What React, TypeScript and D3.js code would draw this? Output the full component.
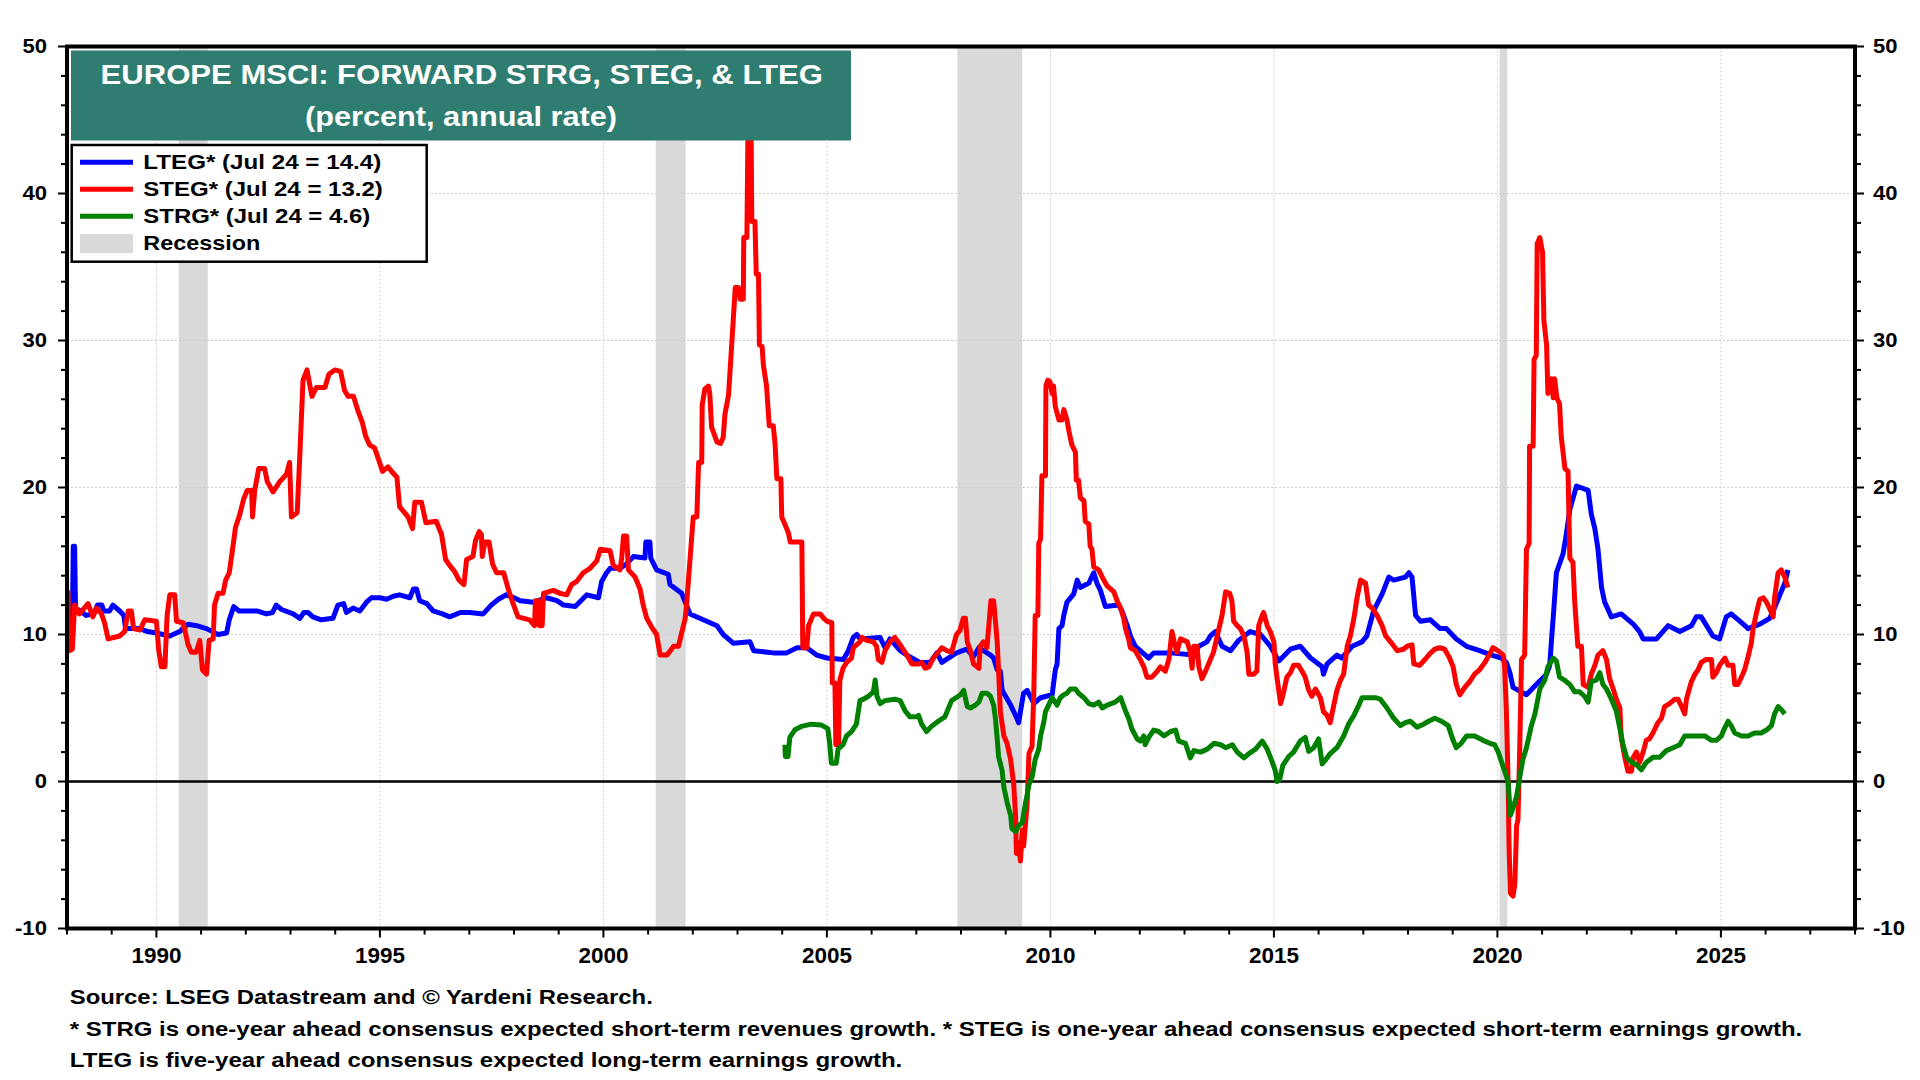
import React from 'react';
import * as d3 from 'd3';

// ---------- DATA ----------
const YEAR_TICKS = [1990, 1995, 2000, 2005, 2010, 2015, 2020, 2025];
const Y_TICKS = [-10, 0, 10, 20, 30, 40, 50];
const GRID_Y = [10, 20, 30, 40];

const RECESSIONS: [number, number][] = [
  [1990.5, 1991.15],
  [2001.17, 2001.84],
  [2007.92, 2009.37],
  [2020.05, 2020.22],
];

const LTEG: [number, number][] = [
  [1988.02, 10.5], [1988.12, 10.6], [1988.14, 16.0], [1988.17, 16.0], [1988.19, 11.8], [1988.3, 11.6],
  [1988.43, 11.3], [1988.6, 11.4], [1988.68, 12.0], [1988.78, 12.0], [1988.82, 11.6], [1988.95, 11.6],
  [1989.03, 12.0], [1989.1, 11.8], [1989.18, 11.6], [1989.27, 11.3], [1989.31, 10.4], [1989.63, 10.4],
  [1989.8, 10.2], [1990.0, 10.1], [1990.3, 9.9], [1990.52, 10.2], [1990.71, 10.7], [1990.9, 10.6],
  [1991.12, 10.4], [1991.38, 10.0], [1991.57, 10.1], [1991.63, 11.0], [1991.73, 11.9], [1991.85, 11.6],
  [1992.01, 11.6], [1992.25, 11.6], [1992.46, 11.4], [1992.6, 11.5], [1992.68, 12.0], [1992.8, 11.7],
  [1993.06, 11.4], [1993.21, 11.1], [1993.3, 11.5], [1993.39, 11.5], [1993.5, 11.2], [1993.69, 11.0],
  [1993.95, 11.1], [1994.06, 12.0], [1994.19, 12.1], [1994.25, 11.5], [1994.4, 11.8], [1994.55, 11.6],
  [1994.7, 12.2], [1994.81, 12.5], [1995.0, 12.5], [1995.15, 12.4], [1995.3, 12.6], [1995.44, 12.7],
  [1995.67, 12.5], [1995.75, 13.1], [1995.82, 13.1], [1995.89, 12.3], [1996.05, 12.1], [1996.19, 11.6],
  [1996.4, 11.4], [1996.56, 11.2], [1996.8, 11.5], [1997.01, 11.5], [1997.31, 11.4], [1997.49, 12.0],
  [1997.65, 12.4], [1997.83, 12.7], [1998.0, 12.5], [1998.14, 12.3], [1998.43, 12.2], [1998.73, 12.5],
  [1998.96, 12.3], [1999.11, 12.0], [1999.37, 11.9], [1999.63, 12.7], [1999.89, 12.5], [1999.96, 13.6],
  [2000.07, 14.2], [2000.15, 14.5], [2000.37, 14.5], [2000.52, 14.8], [2000.67, 15.3], [2000.93, 15.2],
  [2000.95, 16.3], [2001.04, 16.3], [2001.06, 15.2], [2001.19, 14.4], [2001.45, 14.1], [2001.49, 13.4],
  [2001.75, 12.8], [2001.83, 12.2], [2001.94, 11.4], [2002.31, 10.9], [2002.54, 10.6], [2002.68, 10.0],
  [2002.91, 9.4], [2003.28, 9.5], [2003.36, 8.9], [2003.8, 8.75], [2004.1, 8.75], [2004.33, 9.1],
  [2004.55, 9.1], [2004.77, 8.6], [2005.0, 8.4], [2005.37, 8.3], [2005.48, 8.9], [2005.59, 9.8],
  [2005.67, 10.0], [2005.74, 9.7], [2006.19, 9.8], [2006.3, 9.1], [2006.41, 9.7], [2006.64, 8.9],
  [2006.79, 8.6], [2007.08, 8.1], [2007.31, 8.1], [2007.46, 8.75], [2007.57, 8.1], [2007.9, 8.75],
  [2008.13, 9.0], [2008.28, 8.5], [2008.4, 9.1], [2008.66, 8.6], [2008.73, 8.4], [2008.81, 7.6],
  [2008.88, 7.5], [2008.92, 6.2], [2009.11, 5.2], [2009.25, 4.3], [2009.29, 4.0], [2009.33, 4.75],
  [2009.4, 6.0], [2009.48, 6.2], [2009.63, 5.3], [2009.78, 5.7], [2010.04, 5.9], [2010.11, 7.6],
  [2010.15, 8.0], [2010.19, 10.4], [2010.26, 10.6], [2010.3, 11.3], [2010.37, 12.2], [2010.52, 12.75],
  [2010.6, 13.7], [2010.67, 13.2], [2010.86, 13.5], [2010.97, 14.2], [2011.04, 13.5], [2011.12, 13.0],
  [2011.23, 11.9], [2011.53, 12.0], [2011.6, 11.6], [2011.72, 10.6], [2011.79, 9.9], [2011.9, 9.2],
  [2012.2, 8.4], [2012.31, 8.75], [2012.68, 8.75], [2013.21, 8.6], [2013.32, 9.2], [2013.5, 9.5],
  [2013.58, 9.9], [2013.69, 10.2], [2013.84, 9.2], [2014.03, 8.9], [2014.21, 9.6], [2014.47, 10.2],
  [2014.7, 10.0], [2014.92, 9.2], [2015.11, 8.2], [2015.37, 9.0], [2015.59, 9.2], [2015.82, 8.4],
  [2016.08, 7.8], [2016.11, 7.3], [2016.19, 8.0], [2016.41, 8.6], [2016.52, 8.4], [2016.75, 9.2],
  [2016.97, 9.5], [2017.08, 9.9], [2017.23, 11.6], [2017.42, 12.75], [2017.57, 13.9], [2017.68, 13.7],
  [2017.94, 13.9], [2018.02, 14.2], [2018.09, 13.9], [2018.17, 11.3], [2018.28, 10.9], [2018.5, 11.0],
  [2018.72, 10.4], [2018.86, 10.4], [2019.08, 9.7], [2019.31, 9.2], [2019.6, 8.9], [2019.87, 8.6],
  [2020.09, 8.4], [2020.2, 8.1], [2020.28, 7.4], [2020.35, 6.4], [2020.65, 5.9], [2020.87, 6.6],
  [2021.1, 7.3], [2021.17, 7.9], [2021.21, 9.6], [2021.25, 11.2], [2021.32, 14.2], [2021.47, 15.5],
  [2021.54, 16.8], [2021.62, 18.5], [2021.77, 20.1], [2022.03, 19.8], [2022.1, 18.2], [2022.18, 17.2],
  [2022.25, 15.8], [2022.33, 13.2], [2022.4, 12.2], [2022.55, 11.2], [2022.77, 11.4], [2023.04, 10.7],
  [2023.18, 10.2], [2023.26, 9.7], [2023.56, 9.7], [2023.82, 10.6], [2024.08, 10.2], [2024.34, 10.6],
  [2024.45, 11.2], [2024.56, 11.2], [2024.82, 9.9], [2024.97, 9.7], [2025.12, 11.2], [2025.23, 11.4],
  [2025.5, 10.7], [2025.61, 10.4], [2025.87, 10.7], [2026.09, 11.1], [2026.17, 11.6], [2026.32, 12.7],
  [2026.43, 13.5], [2026.5, 14.4],
];

const STEG: [number, number][] = [
  [1988.02, 13.0], [1988.05, 8.9], [1988.12, 9.0], [1988.17, 12.0], [1988.28, 11.4], [1988.47, 12.1],
  [1988.58, 11.2], [1988.66, 11.8], [1988.77, 11.4], [1988.84, 10.8], [1988.92, 9.7], [1989.18, 9.9],
  [1989.29, 10.2], [1989.37, 11.6], [1989.44, 11.6], [1989.49, 10.4], [1989.63, 10.3], [1989.74, 11.0],
  [1990.0, 10.9], [1990.05, 9.0], [1990.11, 7.8], [1990.19, 7.8], [1990.24, 11.3], [1990.3, 12.7],
  [1990.41, 12.7], [1990.45, 10.9], [1990.6, 10.8], [1990.71, 9.3], [1990.78, 8.8], [1990.89, 8.8],
  [1990.97, 9.6], [1991.03, 7.6], [1991.12, 7.3], [1991.18, 9.6], [1991.27, 9.7], [1991.3, 12.0],
  [1991.38, 12.8], [1991.49, 12.8], [1991.55, 13.7], [1991.63, 14.2], [1991.7, 15.7], [1991.77, 17.3],
  [1991.86, 18.1], [1991.95, 19.2], [1992.03, 19.8], [1992.13, 19.8], [1992.15, 18.0], [1992.2, 19.8],
  [1992.29, 21.3], [1992.42, 21.3], [1992.48, 20.4], [1992.61, 19.7], [1992.76, 20.4], [1992.91, 20.9],
  [1992.98, 21.7], [1993.02, 18.0], [1993.15, 18.3], [1993.21, 22.3], [1993.28, 27.3], [1993.37, 28.0],
  [1993.43, 27.0], [1993.48, 26.2], [1993.58, 26.8], [1993.77, 26.8], [1993.86, 27.7], [1993.99, 28.0],
  [1994.12, 27.9], [1994.21, 26.6], [1994.29, 26.2], [1994.41, 26.2], [1994.5, 25.3], [1994.61, 24.4],
  [1994.68, 23.5], [1994.77, 22.9], [1994.88, 22.7], [1994.96, 22.0], [1995.06, 21.1], [1995.18, 21.4],
  [1995.29, 21.0], [1995.38, 20.7], [1995.44, 18.7], [1995.63, 18.0], [1995.73, 17.2], [1995.78, 19.0],
  [1995.93, 19.0], [1996.03, 17.6], [1996.26, 17.7], [1996.38, 16.8], [1996.47, 15.1], [1996.56, 14.7],
  [1996.67, 14.3], [1996.77, 13.7], [1996.88, 13.4], [1996.94, 15.1], [1997.08, 15.3], [1997.14, 16.4],
  [1997.22, 17.0], [1997.27, 16.8], [1997.29, 15.3], [1997.35, 16.3], [1997.44, 16.3], [1997.52, 14.8],
  [1997.61, 14.2], [1997.77, 14.2], [1997.87, 13.1], [1997.98, 12.1], [1998.09, 11.2], [1998.35, 11.0],
  [1998.46, 10.6], [1998.48, 12.3], [1998.55, 12.3], [1998.57, 10.6], [1998.63, 10.6], [1998.66, 12.8],
  [1998.88, 13.0], [1999.03, 12.8], [1999.18, 12.7], [1999.29, 13.4], [1999.4, 13.6], [1999.55, 14.2],
  [1999.7, 14.5], [1999.85, 15.0], [1999.93, 15.8], [2000.15, 15.7], [2000.22, 14.7], [2000.37, 14.4],
  [2000.41, 15.2], [2000.45, 16.7], [2000.52, 16.7], [2000.56, 14.4], [2000.71, 13.9], [2000.82, 13.1],
  [2000.89, 12.0], [2000.97, 11.1], [2001.08, 10.5], [2001.19, 10.0], [2001.27, 8.6], [2001.42, 8.6],
  [2001.5, 8.9], [2001.57, 9.2], [2001.68, 9.2], [2001.75, 10.1], [2001.83, 11.1], [2001.86, 12.0],
  [2001.94, 15.2], [2002.01, 18.0], [2002.09, 18.0], [2002.13, 21.7], [2002.2, 21.7], [2002.21, 25.6],
  [2002.27, 26.7], [2002.35, 26.9], [2002.38, 26.4], [2002.42, 24.1], [2002.54, 23.1], [2002.62, 23.0],
  [2002.68, 23.4], [2002.72, 25.0], [2002.8, 26.3], [2002.87, 29.7], [2002.95, 33.6], [2003.02, 33.6],
  [2003.06, 32.8], [2003.13, 32.8], [2003.14, 37.0], [2003.21, 37.0], [2003.24, 46.0], [2003.3, 46.0],
  [2003.32, 38.1], [2003.39, 38.1], [2003.42, 34.5], [2003.47, 34.5], [2003.49, 29.7], [2003.55, 29.6],
  [2003.58, 28.3], [2003.65, 26.9], [2003.71, 24.2], [2003.8, 24.2], [2003.84, 23.0], [2003.88, 20.6],
  [2003.97, 20.6], [2003.99, 18.0], [2004.06, 17.5], [2004.14, 16.9], [2004.18, 16.3], [2004.44, 16.3],
  [2004.46, 9.1], [2004.55, 9.1], [2004.59, 10.6], [2004.66, 11.1], [2004.7, 11.4], [2004.85, 11.4],
  [2004.93, 11.1], [2005.0, 10.9], [2005.11, 10.8], [2005.12, 6.7], [2005.18, 6.7], [2005.2, 2.5],
  [2005.26, 2.5], [2005.29, 6.9], [2005.36, 7.7], [2005.44, 8.1], [2005.55, 8.4], [2005.59, 9.1],
  [2005.74, 9.5], [2005.78, 9.8], [2005.89, 9.6], [2006.04, 9.5], [2006.11, 9.2], [2006.15, 8.3],
  [2006.23, 8.1], [2006.3, 8.9], [2006.41, 9.5], [2006.52, 9.8], [2006.64, 9.3], [2006.79, 8.6],
  [2006.9, 8.0], [2007.05, 8.0], [2007.12, 8.1], [2007.2, 7.7], [2007.28, 7.8], [2007.38, 8.4],
  [2007.57, 9.1], [2007.68, 8.9], [2007.79, 8.8], [2007.9, 10.0], [2007.98, 10.3], [2008.05, 11.1],
  [2008.1, 11.1], [2008.14, 9.5], [2008.21, 8.9], [2008.28, 8.0], [2008.4, 7.7], [2008.43, 9.2],
  [2008.5, 9.5], [2008.58, 9.1], [2008.67, 12.3], [2008.73, 12.3], [2008.77, 10.9], [2008.81, 9.5],
  [2008.84, 7.6], [2008.88, 4.75], [2008.96, 3.1], [2009.03, 2.6], [2009.11, 1.5], [2009.18, -0.2],
  [2009.22, -2.3], [2009.24, -4.9], [2009.29, -4.2], [2009.33, -5.4], [2009.37, -3.3], [2009.4, -4.4],
  [2009.44, -3.0], [2009.48, -1.5], [2009.52, 1.9], [2009.59, 2.4], [2009.63, 6.2], [2009.66, 11.3],
  [2009.72, 11.3], [2009.74, 16.2], [2009.78, 16.5], [2009.81, 20.8], [2009.89, 20.8], [2009.9, 26.9],
  [2009.94, 27.3], [2009.99, 27.2], [2010.04, 26.4], [2010.07, 26.9], [2010.11, 25.5], [2010.19, 24.6],
  [2010.26, 24.6], [2010.3, 25.3], [2010.37, 24.6], [2010.41, 23.9], [2010.48, 22.9], [2010.56, 22.4],
  [2010.58, 20.5], [2010.63, 20.5], [2010.67, 19.3], [2010.75, 19.1], [2010.78, 17.7], [2010.86, 17.5],
  [2010.89, 16.0], [2010.93, 15.8], [2010.97, 14.6], [2011.08, 14.4], [2011.16, 13.9], [2011.27, 13.3],
  [2011.42, 12.9], [2011.49, 12.3], [2011.57, 11.8], [2011.64, 11.1], [2011.68, 10.4], [2011.75, 9.7],
  [2011.79, 9.1], [2011.9, 8.9], [2012.01, 8.3], [2012.09, 7.8], [2012.16, 7.1], [2012.27, 7.1],
  [2012.39, 7.5], [2012.46, 7.8], [2012.57, 7.5], [2012.65, 8.3], [2012.72, 10.2], [2012.77, 9.5],
  [2012.83, 8.8], [2012.91, 9.7], [2013.06, 9.5], [2013.13, 8.8], [2013.17, 7.7], [2013.21, 9.2],
  [2013.28, 9.2], [2013.32, 7.8], [2013.39, 7.0], [2013.47, 7.5], [2013.58, 8.3], [2013.65, 8.8],
  [2013.77, 10.4], [2013.84, 11.3], [2013.92, 12.9], [2014.01, 12.8], [2014.06, 12.3], [2014.1, 10.9],
  [2014.18, 10.6], [2014.25, 10.4], [2014.33, 9.9], [2014.4, 8.8], [2014.44, 7.3], [2014.55, 7.3],
  [2014.62, 7.5], [2014.66, 10.6], [2014.74, 11.3], [2014.77, 11.5], [2014.85, 10.6], [2014.92, 10.2],
  [2015.0, 9.5], [2015.03, 8.0], [2015.09, 6.6], [2015.15, 5.3], [2015.22, 6.1], [2015.29, 7.1],
  [2015.37, 7.4], [2015.44, 7.9], [2015.55, 7.9], [2015.63, 7.5], [2015.7, 7.1], [2015.78, 6.2],
  [2015.85, 5.8], [2015.93, 6.3], [2016.04, 5.7], [2016.11, 4.75], [2016.19, 4.5], [2016.26, 4.0],
  [2016.34, 5.2], [2016.41, 6.2], [2016.49, 6.9], [2016.56, 7.3], [2016.64, 9.2], [2016.71, 9.9],
  [2016.79, 11.1], [2016.86, 12.5], [2016.94, 13.7], [2017.05, 13.5], [2017.12, 12.0], [2017.2, 11.8],
  [2017.31, 11.3], [2017.42, 10.6], [2017.5, 9.9], [2017.61, 9.5], [2017.76, 8.9], [2017.9, 9.0],
  [2017.98, 9.2], [2018.09, 9.3], [2018.13, 8.0], [2018.26, 7.9], [2018.38, 8.3], [2018.49, 8.7],
  [2018.6, 9.0], [2018.71, 9.1], [2018.82, 9.0], [2018.93, 8.4], [2019.01, 7.8], [2019.08, 6.6],
  [2019.16, 5.9], [2019.27, 6.4], [2019.38, 6.8], [2019.49, 7.3], [2019.6, 7.6], [2019.72, 8.1],
  [2019.83, 8.7], [2019.9, 9.1], [2020.01, 8.9], [2020.13, 8.6], [2020.16, 7.9], [2020.2, 4.9],
  [2020.24, 0.0], [2020.26, -4.3], [2020.29, -7.6], [2020.35, -7.8], [2020.39, -7.0], [2020.43, -3.0],
  [2020.46, -2.6], [2020.5, 2.3], [2020.54, 8.3], [2020.61, 8.6], [2020.65, 15.8], [2020.71, 16.2],
  [2020.72, 22.8], [2020.8, 22.8], [2020.82, 28.7], [2020.87, 29.0], [2020.89, 36.6], [2020.95, 37.0],
  [2021.01, 36.0], [2021.04, 31.4], [2021.1, 29.7], [2021.13, 26.4], [2021.21, 27.4], [2021.25, 26.1],
  [2021.28, 27.4], [2021.33, 26.1], [2021.39, 25.7], [2021.43, 23.4], [2021.51, 21.3], [2021.58, 21.1],
  [2021.62, 15.2], [2021.69, 14.9], [2021.73, 12.2], [2021.8, 9.2], [2021.88, 9.2], [2021.92, 6.6],
  [2022.03, 6.4], [2022.1, 7.3], [2022.18, 7.9], [2022.25, 8.6], [2022.36, 8.9], [2022.44, 8.3],
  [2022.51, 7.0], [2022.59, 6.3], [2022.66, 5.6], [2022.74, 5.0], [2022.77, 3.0], [2022.85, 1.65],
  [2022.92, 0.7], [2023.0, 0.7], [2023.04, 1.65], [2023.11, 2.0], [2023.18, 1.3], [2023.26, 2.0],
  [2023.33, 2.8], [2023.4, 2.9], [2023.48, 3.3], [2023.59, 4.0], [2023.67, 4.3], [2023.74, 5.1],
  [2023.85, 5.3], [2023.97, 5.6], [2024.04, 5.6], [2024.12, 5.1], [2024.19, 4.6], [2024.23, 5.6],
  [2024.34, 6.8], [2024.42, 7.3], [2024.49, 7.6], [2024.56, 8.1], [2024.67, 8.3], [2024.79, 8.3],
  [2024.82, 7.1], [2024.9, 7.4], [2024.97, 7.9], [2025.09, 8.4], [2025.16, 7.9], [2025.27, 7.9],
  [2025.31, 6.6], [2025.38, 6.6], [2025.46, 7.1], [2025.53, 7.6], [2025.6, 8.4], [2025.68, 9.4],
  [2025.72, 10.4], [2025.79, 11.4], [2025.87, 12.4], [2025.95, 12.5], [2026.02, 12.2], [2026.1, 11.7],
  [2026.17, 11.2], [2026.2, 12.5], [2026.28, 14.2], [2026.35, 14.4], [2026.43, 13.9], [2026.5, 13.2],
];

const STRG: [number, number][] = [
  [2004.06, 2.5], [2004.07, 1.7], [2004.13, 1.7], [2004.17, 3.0], [2004.28, 3.5], [2004.43, 3.75],
  [2004.65, 3.9], [2004.87, 3.85], [2005.02, 3.6], [2005.06, 2.66], [2005.1, 1.25], [2005.21, 1.25],
  [2005.25, 2.2], [2005.36, 2.5], [2005.44, 3.1], [2005.55, 3.4], [2005.66, 3.9], [2005.74, 5.5],
  [2005.82, 5.6], [2005.93, 5.8], [2006.04, 6.1], [2006.08, 6.9], [2006.12, 5.8], [2006.19, 5.3],
  [2006.3, 5.5], [2006.52, 5.6], [2006.64, 5.5], [2006.75, 4.8], [2006.86, 4.4], [2007.01, 4.4],
  [2007.05, 4.5], [2007.12, 3.9], [2007.23, 3.4], [2007.34, 3.75], [2007.49, 4.1], [2007.64, 4.4],
  [2007.79, 5.5], [2007.99, 5.9], [2008.06, 6.2], [2008.14, 5.1], [2008.21, 5.0], [2008.32, 5.2],
  [2008.4, 5.4], [2008.47, 6.0], [2008.58, 6.0], [2008.66, 5.8], [2008.73, 5.2], [2008.77, 4.3],
  [2008.81, 2.9], [2008.84, 1.7], [2008.92, 0.75], [2008.96, -0.4], [2009.03, -1.4], [2009.11, -2.3],
  [2009.14, -3.2], [2009.22, -3.4], [2009.29, -3.0], [2009.37, -2.8], [2009.44, -1.5], [2009.48, -0.9],
  [2009.52, -0.2], [2009.59, 0.3], [2009.66, 1.5], [2009.74, 2.2], [2009.78, 3.1], [2009.85, 4.0],
  [2009.89, 4.75], [2009.96, 5.2], [2010.04, 5.7], [2010.15, 5.2], [2010.22, 5.7], [2010.3, 5.9],
  [2010.37, 6.0], [2010.45, 6.3], [2010.56, 6.3], [2010.63, 6.0], [2010.75, 5.7], [2010.86, 5.3],
  [2010.97, 5.2], [2011.08, 5.4], [2011.16, 5.0], [2011.27, 5.2], [2011.45, 5.4], [2011.57, 5.7],
  [2011.68, 4.8], [2011.75, 4.3], [2011.82, 3.6], [2011.94, 2.9], [2012.01, 2.75], [2012.09, 3.1],
  [2012.12, 2.5], [2012.2, 3.0], [2012.31, 3.5], [2012.42, 3.4], [2012.54, 3.1], [2012.69, 3.4],
  [2012.8, 3.5], [2012.87, 2.75], [2013.02, 2.6], [2013.13, 1.6], [2013.21, 2.1], [2013.36, 2.0],
  [2013.51, 2.2], [2013.66, 2.6], [2013.81, 2.5], [2013.92, 2.3], [2014.07, 2.5], [2014.18, 2.0],
  [2014.33, 1.6], [2014.44, 1.9], [2014.59, 2.2], [2014.74, 2.75], [2014.85, 2.2], [2014.96, 1.35],
  [2015.03, 0.75], [2015.07, 0.0], [2015.13, 0.15], [2015.2, 1.1], [2015.33, 1.7], [2015.44, 2.0],
  [2015.59, 2.75], [2015.7, 3.0], [2015.78, 2.05], [2015.89, 2.3], [2016.0, 2.9], [2016.08, 1.2],
  [2016.15, 1.45], [2016.26, 1.9], [2016.41, 2.3], [2016.56, 3.1], [2016.67, 3.9], [2016.79, 4.5],
  [2016.9, 5.2], [2016.97, 5.7], [2017.08, 5.7], [2017.27, 5.7], [2017.38, 5.6], [2017.53, 5.0],
  [2017.68, 4.3], [2017.83, 3.8], [2017.94, 4.0], [2018.05, 4.1], [2018.2, 3.7], [2018.35, 3.9],
  [2018.46, 4.1], [2018.6, 4.3], [2018.75, 4.1], [2018.9, 3.8], [2019.01, 2.8], [2019.08, 2.3],
  [2019.19, 2.6], [2019.31, 3.1], [2019.49, 3.1], [2019.68, 2.8], [2019.83, 2.6], [2019.94, 2.5],
  [2020.02, 2.0], [2020.24, 0.0], [2020.29, -2.3], [2020.35, -1.8], [2020.43, -1.0], [2020.5, 0.3],
  [2020.57, 1.5], [2020.65, 2.3], [2020.76, 3.8], [2020.84, 4.6], [2020.95, 6.3], [2021.06, 6.9],
  [2021.13, 7.8], [2021.25, 8.4], [2021.32, 8.2], [2021.39, 7.1], [2021.5, 6.9], [2021.62, 6.6],
  [2021.73, 6.1], [2021.84, 6.1], [2021.95, 5.8], [2022.03, 5.4], [2022.1, 6.8], [2022.21, 6.9],
  [2022.29, 7.4], [2022.36, 6.6], [2022.44, 6.3], [2022.55, 5.6], [2022.66, 4.8], [2022.74, 3.6],
  [2022.81, 2.5], [2022.89, 1.65], [2023.0, 1.3], [2023.11, 1.15], [2023.22, 0.8], [2023.33, 1.3],
  [2023.48, 1.65], [2023.63, 1.65], [2023.78, 2.1], [2023.93, 2.3], [2024.08, 2.5], [2024.19, 3.1],
  [2024.34, 3.1], [2024.49, 3.1], [2024.64, 3.1], [2024.79, 2.8], [2024.9, 2.8], [2025.01, 3.1],
  [2025.08, 3.6], [2025.16, 4.1], [2025.23, 3.8], [2025.31, 3.3], [2025.46, 3.1], [2025.61, 3.1],
  [2025.75, 3.3], [2025.9, 3.3], [2026.02, 3.5], [2026.13, 3.8], [2026.2, 4.6], [2026.28, 5.1],
  [2026.35, 4.9], [2026.43, 4.6],
];

const TITLE_LINES = ['EUROPE MSCI: FORWARD STRG, STEG, & LTEG', '(percent, annual rate)'];
const LEGEND_LABELS = ['LTEG* (Jul 24 = 14.4)', 'STEG* (Jul 24 = 13.2)', 'STRG* (Jul 24 = 4.6)', 'Recession'];
const FOOTNOTES = [
  'Source: LSEG Datastream and © Yardeni Research.',
  '* STRG is one-year ahead consensus expected short-term revenues growth. * STEG is one-year ahead consensus expected short-term earnings growth.',
  'LTEG is five-year ahead consensus expected long-term earnings growth.',
];

// ---------- LAYOUT / STYLE ----------
const W = 1920;
const H = 1080;
const PL = 67, PR = 1855, PT = 46.5, PB = 928.5;
const FONT = '"Liberation Sans", Arial, Helvetica, sans-serif';
const COLORS = { lteg: '#0000ff', steg: '#ff0000', strg: '#008000', rec: '#d9d9d9', teal: '#2e7d70' };

export default function App() {
  const x = d3.scaleLinear().domain([1988, 2028]).range([PL, PR]);
  const y = d3.scaleLinear().domain([-10, 50]).range([PB, PT]);
  const line = d3
    .line<[number, number]>()
    .x((d) => x(d[0]))
    .y((d) => y(d[1]));

  const minorY = d3.range(-10, 51, 2);
  const minorX = d3.range(1988, 2029, 1);

  const yLabelWidth = (s: string) =>
    s.split('').reduce((a, c) => a + (c === '-' ? 7.5 : 12.25), 0);

  const series = [
    { data: LTEG, color: COLORS.lteg },
    { data: STEG, color: COLORS.steg },
    { data: STRG, color: COLORS.strg },
  ];

  const legendTextW = [238, 239.5, 227, 117];
  const footW = [583, 1732.5, 832.5];
  const footY = [1004, 1036, 1067];

  return (
    <svg
      width={W}
      height={H}
      viewBox={`0 0 ${W} ${H}`}
      style={{ position: 'absolute', left: 0, top: 0, background: '#fff' }}
      fontFamily={FONT}
      fontWeight="bold"
    >
      <rect x={0} y={0} width={W} height={H} fill="#fff" />
      <defs>
        <clipPath id="plotClip">
          <rect x={PL} y={PT} width={PR - PL} height={PB - PT} />
        </clipPath>
      </defs>

      {/* recessions */}
      {RECESSIONS.map(([a, b], i) => (
        <rect key={i} x={x(a)} y={PT} width={x(b) - x(a)} height={PB - PT} fill={COLORS.rec} />
      ))}

      {/* gridlines */}
      {YEAR_TICKS.map((t) => (
        <line key={'gx' + t} x1={x(t)} x2={x(t)} y1={PT} y2={PB} stroke="#cfcfcf" strokeWidth={1} strokeDasharray="2,2" />
      ))}
      {GRID_Y.map((t) => (
        <line key={'gy' + t} x1={PL} x2={PR} y1={y(t)} y2={y(t)} stroke="#cfcfcf" strokeWidth={1} strokeDasharray="2,2" />
      ))}

      {/* zero line */}
      <line x1={PL} x2={PR} y1={y(0)} y2={y(0)} stroke="#000" strokeWidth={2.5} />

      {/* series */}
      <g clipPath="url(#plotClip)">
        {series.map((s, i) => (
          <path
            key={i}
            d={line(s.data) || ''}
            fill="none"
            stroke={s.color}
            strokeWidth={5}
            strokeLinejoin="round"
            strokeLinecap="butt"
          />
        ))}
      </g>

      {/* frame */}
      <rect x={PL} y={PT} width={PR - PL} height={PB - PT} fill="none" stroke="#000" strokeWidth={4} />

      {/* y ticks */}
      {minorY.map((v) => {
        const len = v % 10 === 0 ? 7 : 4;
        return (
          <g key={'yt' + v}>
            <line x1={PL - 2 - len} x2={PL} y1={y(v)} y2={y(v)} stroke="#000" strokeWidth={2} />
            <line x1={PR} x2={PR + 2 + len} y1={y(v)} y2={y(v)} stroke="#000" strokeWidth={2} />
          </g>
        );
      })}
      {/* x ticks */}
      {minorX.map((v) => {
        const len = v % 5 === 0 ? 7 : 4;
        return <line key={'xt' + v} x1={x(v)} x2={x(v)} y1={PB} y2={PB + 2 + len} stroke="#000" strokeWidth={2} />;
      })}

      {/* y labels */}
      {Y_TICKS.map((v) => {
        const s = String(v);
        const w = yLabelWidth(s);
        return (
          <g key={'yl' + v}>
            <text x={47 - w} y={y(v) + 6.5} fontSize={21} textLength={w} lengthAdjust="spacingAndGlyphs">
              {s}
            </text>
            <text x={1873} y={y(v) + 6.5} fontSize={21} textLength={w} lengthAdjust="spacingAndGlyphs">
              {s}
            </text>
          </g>
        );
      })}

      {/* x labels */}
      {YEAR_TICKS.map((t) => (
        <text key={'xl' + t} x={x(t) - 25} y={963} fontSize={22.5} textLength={50} lengthAdjust="spacingAndGlyphs">
          {t}
        </text>
      ))}

      {/* title box */}
      <rect x={71} y={50.5} width={780} height={90} fill={COLORS.teal} />
      <text x={100.5} y={84.3} fontSize={27} fill="#fff" textLength={722.5} lengthAdjust="spacingAndGlyphs">
        {TITLE_LINES[0]}
      </text>
      <text x={305} y={126} fontSize={27} fill="#fff" textLength={312} lengthAdjust="spacingAndGlyphs">
        {TITLE_LINES[1]}
      </text>

      {/* legend */}
      <rect x={71.7} y={145} width={355} height={116.7} fill="#fff" stroke="#000" strokeWidth={2.5} />
      {[COLORS.lteg, COLORS.steg, COLORS.strg].map((c, i) => (
        <line key={'ll' + i} x1={80} x2={133} y1={162.3 + i * 27} y2={162.3 + i * 27} stroke={c} strokeWidth={5} />
      ))}
      <rect x={80} y={234} width={53} height={19} fill={COLORS.rec} />
      {LEGEND_LABELS.map((s, i) => (
        <text
          key={'lt' + i}
          x={143.3}
          y={168.5 + i * 27}
          fontSize={21}
          textLength={legendTextW[i]}
          lengthAdjust="spacingAndGlyphs"
        >
          {s}
        </text>
      ))}

      {/* footnotes */}
      {FOOTNOTES.map((s, i) => (
        <text key={'fn' + i} x={69.8} y={footY[i]} fontSize={19.5} textLength={footW[i]} lengthAdjust="spacingAndGlyphs">
          {s}
        </text>
      ))}
    </svg>
  );
}
